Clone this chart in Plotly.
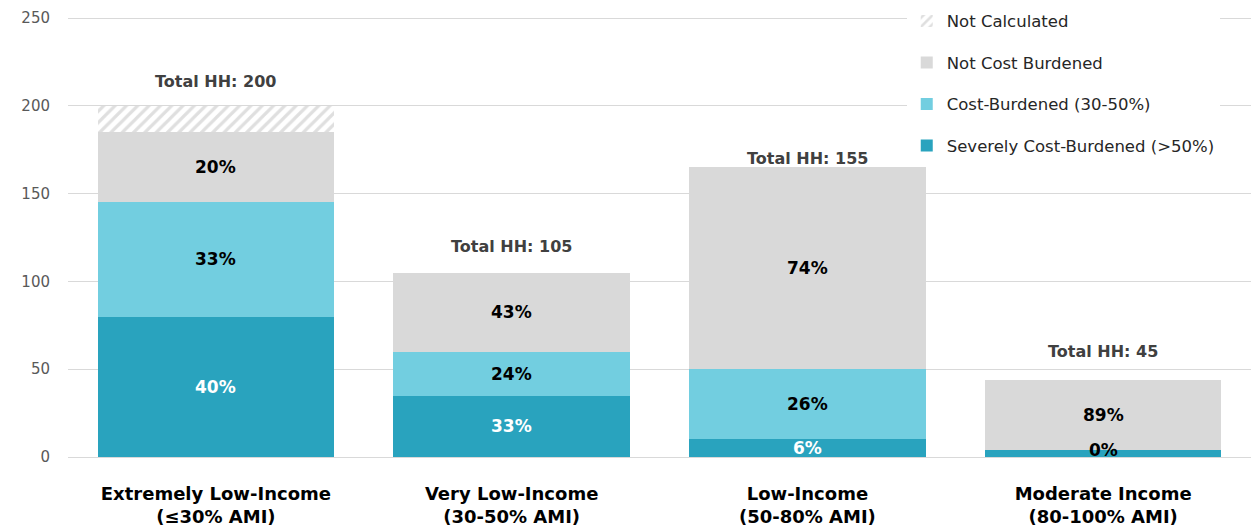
import plotly.graph_objects as go

categories = ["Extremely Low-Income<br>(≤30% AMI)", "Very Low-Income<br>(30-50% AMI)",
              "Low-Income<br>(50-80% AMI)", "Moderate Income<br>(80-100% AMI)"]
severe = [80, 35, 10, 4]
cost_burdened = [65, 25, 40, 0]
not_burdened = [40, 45, 115, 40]
not_calculated = [15, 0, 0, 0]

severe_pct = ["40%", "33%", "6%", ""]
cost_pct = ["33%", "24%", "26%", "0%"]
notb_pct = ["20%", "43%", "74%", "89%"]
total_labels = ["Total HH: 200", "Total HH: 105", "Total HH: 155", "Total HH: 45"]
total_label_y = [214, 120, 170, 60]

C_SEV = "#29A3BE"
C_COST = "#72CEE0"
C_NOT = "#D9D9D9"
FONT = "Century Gothic, DejaVu Sans, sans-serif"

fig = go.Figure()
fig.add_bar(x=categories, y=severe, name="Severely Cost-Burdened (>50%)",
            marker=dict(color=C_SEV, line=dict(width=0)), legendgroup="a", legendrank=4)
fig.add_bar(x=categories, y=cost_burdened, name="Cost-Burdened (30-50%)",
            marker=dict(color=C_COST, line=dict(width=0)), legendgroup="b", legendrank=3)
fig.add_bar(x=categories, y=not_burdened, name="Not Cost Burdened",
            marker=dict(color=C_NOT, line=dict(width=0)), legendgroup="c", legendrank=2)
fig.add_bar(x=categories, y=not_calculated, name="Not Calculated",
            marker=dict(color="white", line=dict(width=0),
                        pattern=dict(shape="/", fgcolor="#BFBFBF", bgcolor="white",
                                     size=8, solidity=0.4)), legendgroup="d", legendrank=1)

ann = []
for i, c in enumerate(categories):
    s, cb, nb = severe[i], cost_burdened[i], not_burdened[i]
    if severe_pct[i]:
        ann.append(dict(x=c, y=s / 2, text=f"<b>{severe_pct[i]}</b>", showarrow=False,
                        font=dict(color="white", size=17, family=FONT)))
    ann.append(dict(x=c, y=s + cb / 2, text=f"<b>{cost_pct[i]}</b>", showarrow=False,
                    font=dict(color="black", size=17, family=FONT)))
    ann.append(dict(x=c, y=s + cb + nb / 2, text=f"<b>{notb_pct[i]}</b>", showarrow=False,
                    font=dict(color="black", size=17, family=FONT)))
    ann.append(dict(x=c, y=total_label_y[i], text=f"<b>{total_labels[i]}</b>", showarrow=False,
                    font=dict(color="#404040", size=16, family=FONT)))

fig.update_layout(
    barmode="stack", bargap=0.2,
    width=1251, height=531,
    margin=dict(l=68, r=0, t=17, b=74),
    paper_bgcolor="white", plot_bgcolor="white",
    font=dict(family=FONT, color="#595959", size=15),
    annotations=ann,
    legend=dict(x=0.709, y=1.03, xanchor="left", yanchor="top",
                bgcolor="white", traceorder="grouped", tracegroupgap=17,
                font=dict(color="#262626", size=16.5, family=FONT),
                itemwidth=30),
    xaxis=dict(showgrid=False, showline=True, linecolor="#D9D9D9", linewidth=1,
               tickfont=dict(color="black", size=18, family=FONT), ticks="",
               ticklabelstandoff=20, range=[-0.5, 3.5]),
    yaxis=dict(range=[0, 250.6], dtick=50, showgrid=True, gridcolor="#D9D9D9",
               gridwidth=1, zeroline=False, ticks="", ticklabelstandoff=17,
               tickfont=dict(color="#595959", size=15, family=FONT)),
)
fig.update_xaxes(tickprefix="<b>", ticksuffix="</b>")

fig.write_html("out.html")
